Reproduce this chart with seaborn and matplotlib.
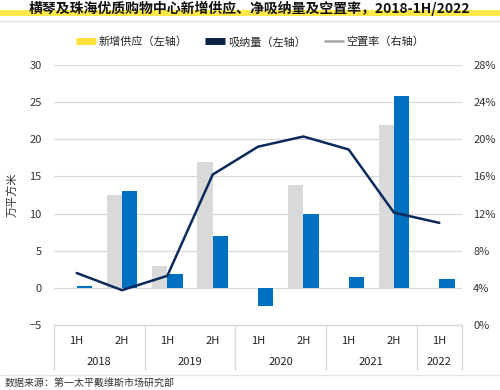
import matplotlib
matplotlib.use("Agg")
import matplotlib.pyplot as plt
import seaborn as sns
import pandas as pd
import numpy as np
from matplotlib.lines import Line2D
from matplotlib.patches import Rectangle

halves = ["1H", "2H", "1H", "2H", "1H", "2H", "1H", "2H", "1H"]
years = ["2018", "2019", "2020", "2021", "2022"]
year_span = [2, 2, 2, 2, 1]
supply = [0.0, 12.5, 2.9, 16.9, 0.0, 13.9, 0.0, 21.9, 0.0]
absorption = [0.2, 13.0, 1.8, 6.95, -2.5, 10.0, 1.45, 25.8, 1.2]
vacancy = [5.6, 3.75, 5.3, 16.2, 19.2, 20.3, 18.9, 12.1, 11.0]

title = "横琴及珠海优质购物中心新增供应、净吸纳量及空置率，2018-1H/2022"
legend_labels = ["新增供应（左轴）", "吸纳量（左轴）", "空置率（右轴）"]
ylabel = "万平方米"
source = "数据来源：第一太平戴维斯市场研究部"

sns.set_theme(style="white")
plt.rcParams["font.family"] = ["Noto Sans CJK SC", "DejaVu Sans"]

n = len(halves)
df = pd.DataFrame({
    "idx": list(range(n)) * 2,
    "value": supply + absorption,
    "series": ["supply"] * n + ["absorption"] * n,
})

fig = plt.figure(figsize=(5, 3.9), dpi=100)
W, H = 500, 390
def fx(px): return px / W
def fy(py): return 1 - py / H

ax = fig.add_axes([fx(54), fy(325), fx(462) - fx(54), fy(65) - fy(325)])
sns.barplot(data=df, x="idx", y="value", hue="series", order=list(range(n)),
            hue_order=["supply", "absorption"],
            palette={"supply": "#D9D9D9", "absorption": "#0070C0"},
            width=0.68, gap=0.0, ax=ax, legend=False, saturation=1, errorbar=None,
            linewidth=0)
ax.set_xlim(-0.5, n - 0.5)
ax.set_ylim(-5, 30)
ax.set_yticks(np.arange(-5, 31, 5))
ax.yaxis.grid(True, color="#D9D9D9", lw=0.9)
ax.set_axisbelow(True)
for s in ax.spines.values():
    s.set_visible(False)
ax.set_xticks([])
ax.set_xlabel("")
ax.set_ylabel(ylabel, fontsize=8, color="#333333", labelpad=8)
ax.tick_params(axis="y", length=0, labelsize=8, labelcolor="#333333", pad=9)

ax2 = ax.twinx()
sns.lineplot(x=list(range(n)), y=vacancy, ax=ax2, color="#0B2A5B", lw=1.8)
ax2.set_ylim(0, 28)
ax2.set_yticks(np.arange(0, 29, 4))
ax2.set_yticklabels([f"{v}%" for v in range(0, 29, 4)])
ax2.tick_params(axis="y", length=0, labelsize=8, labelcolor="#333333", pad=8)
for s in ax2.spines.values():
    s.set_visible(False)
ax2.grid(False)
ax2.set_xlim(-0.5, n - 0.5)

# category axis box
lc = "#D9D9D9"
trans = ax.get_xaxis_transform()
ax.plot([-0.5, n - 0.5], [0, 0], transform=trans, color=lc, lw=1, clip_on=False)
y_bot = -(370 - 325) / (325 - 65)
bounds = [-0.5]
acc = -0.5
for sp in year_span:
    acc += sp
    bounds.append(acc)
for b in bounds:
    ax.plot([b, b], [0, y_bot], transform=trans, color=lc, lw=1, clip_on=False)
y_h = -(341 - 325) / (325 - 65)
y_y = -(362 - 325) / (325 - 65)
for i, h in enumerate(halves):
    ax.text(i, y_h, h, transform=trans, ha="center", va="center", fontsize=8, color="#222222")
for k, yr in enumerate(years):
    ax.text((bounds[k] + bounds[k + 1]) / 2, y_y, yr, transform=trans, ha="center",
            va="center", fontsize=8, color="#222222")

# footer line and source
fig.add_artist(Line2D([0, 1], [fy(375), fy(375)], color="#E3E3E3", lw=1))
fig.text(fx(5), fy(383), source, fontsize=7.2, color="#333333", va="center",
         ha="left", style="italic")

# title with yellow band
fig.add_artist(Rectangle((0, fy(16)), 1, fy(10) - fy(16), color="#FFE84A", lw=0))
fig.add_artist(Line2D([0, 1], [fy(21), fy(21)], color="#E3E3E3", lw=1))
fig.text(0.5, fy(8), title, fontsize=10, fontweight="bold", ha="center", va="center",
         color="#111111")

handles = [Line2D([0], [0], color="#FFE03B", lw=5, solid_capstyle="butt"),
           Line2D([0], [0], color="#0B2345", lw=5, solid_capstyle="butt"),
           Line2D([0], [0], color="#A6A6A6", lw=1.8, solid_capstyle="butt")]
fig.legend(handles, legend_labels, loc="center", bbox_to_anchor=(0.5, fy(42)), ncol=3,
           frameon=False, fontsize=8, handlelength=1.8, handletextpad=0.25,
           columnspacing=1.6)

fig.savefig("out.png", dpi=100)
